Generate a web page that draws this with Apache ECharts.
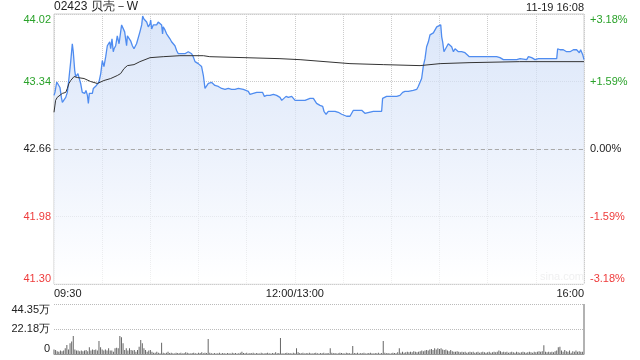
<!DOCTYPE html>
<html><head><meta charset="utf-8">
<script src="https://cdn.jsdelivr.net/npm/echarts@6/dist/echarts.min.js"></script>
<style>html,body{margin:0;padding:0;background:#fff}#c{width:640px;height:360px}</style>
</head><body><div id="c"></div>
<script>
const title = '02423 贝壳－W';
const stamp = '11-19 16:08';
const prevClose = 42.66;
const priceTicks = ['41.30','41.98','42.66','43.34','44.02'];
const pctTicks = ['-3.18%','-1.59%','0.00%','+1.59%','+3.18%'];
const volTicks = ['0','22.18万','44.35万'];
const xTickMinutes = [0,150,330];
const xTickTexts = ['09:30','12:00/13:00','16:00'];

const priceMin = [0,0.6,1.7,2.5,3.7,4.6,5.2,6.2,7.3,8.3,9.3,10.4,11.4,12,12.9,13.5,14.1,14.9,15.6,16.6,17.6,18.3,19.1,19.9,20.8,21.4,22,22.8,23.9,24.5,25.3,26.4,27,28,29.1,30.1,31.1,32.2,33.2,33.8,34.7,35.3,36.1,36.9,37.4,38.4,39.4,40.5,41.5,42.1,42.5,43.2,44,44.6,45.2,45.7,46.7,47.7,48.8,49.8,50.4,51.4,52.5,53.5,54.6,55.2,56,56.6,57.7,58.7,59.8,60.2,60.8,61.8,62.9,63.9,64.9,66,67,67.6,68,69.1,70.1,71.2,72.2,73.2,74.3,75.3,76.4,77.4,78.4,79.5,80.5,81.5,82.6,83.6,84.7,85.7,86.7,87.8,88.8,89.8,90.9,91.9,93,94,95,96.1,98.2,100.2,102.3,104.4,106.5,108.5,110.6,112.7,113.7,114.8,115.8,117.9,121,122,123.1,124.1,126.2,128.3,129.9,131,132.4,134.5,136.6,138.6,140.7,141.8,142.8,144.5,145.9,148,149,150.1,151.1,152.1,154.2,156.3,157.3,159.4,161.5,162.5,163.5,165.6,167.3,168.1,169.4,170.8,172.9,175,177,179.1,180.1,182.2,184.3,185.3,186.4,188,189.5,190.5,191.6,192.6,193.6,194.7,198.8,204,204.6,205.5,207.1,208.2,209.2,210.2,211.3,212.3,213.4,215.4,217.1,218.5,220.6,221.7,223.7,225.8,226.8,227.9,228.9,230,231,232,233.1,234.1,235.2,236.2,237.2,238.3,239.3,240.8,241.4,242,242.8,243.5,244.5,245.5,246.6,247.6,248.7,249.7,250.7,251.8,252.8,253.8,254.9,255.9,257,258.6,259.5,261.1,269.4,275.6,277.7,279.8,280.8,282.9,286,288.1,290.2,294.3,295.4,297.4,299.5,300.5,301.6,302.6,304.7,310.9,313,313.6,315.1,317.1,319.2,320.3,321.3,323.4,324.4,325.4,327.1,327.9,328.8,329.2,330];
const priceVal = [43.20,43.23,43.335,43.32,43.28,43.18,43.13,43.14,43.18,43.23,43.37,43.54,43.72,43.64,43.45,43.39,43.40,43.42,43.40,43.32,43.23,43.25,43.22,43.25,43.20,43.12,43.22,43.23,43.22,43.27,43.25,43.30,43.28,43.335,43.42,43.55,43.49,43.59,43.70,43.72,43.74,43.67,43.77,43.64,43.67,43.70,43.80,43.72,43.84,43.91,43.92,43.89,43.84,43.77,43.70,43.80,43.82,43.75,43.70,43.67,43.69,43.72,43.70,43.84,43.91,44.00,43.97,43.96,43.94,43.89,43.92,43.96,43.87,43.91,43.92,43.91,43.94,43.92,43.91,43.82,43.89,43.86,43.82,43.80,43.77,43.74,43.72,43.70,43.65,43.62,43.63,43.62,43.64,43.62,43.62,43.64,43.64,43.62,43.59,43.54,43.54,43.52,43.50,43.49,43.40,43.27,43.27,43.32,43.33,43.30,43.29,43.27,43.26,43.27,43.26,43.26,43.25,43.27,43.25,43.26,43.24,43.21,43.23,43.22,43.23,43.23,43.23,43.19,43.20,43.20,43.21,43.20,43.18,43.15,43.16,43.19,43.18,43.19,43.18,43.15,43.17,43.15,43.15,43.15,43.16,43.17,43.17,43.15,43.12,43.10,43.09,43.04,43.01,43.04,43.04,43.04,43.03,43.01,42.99,42.99,42.99,43.00,43.05,43.05,43.05,43.04,43.05,43.04,43.02,43.04,43.04,43.04,43.17,43.19,43.19,43.17,43.19,43.18,43.19,43.18,43.19,43.20,43.23,43.24,43.24,43.25,43.25,43.26,43.29,43.31,43.37,43.50,43.57,43.69,43.74,43.81,43.83,43.83,43.84,43.89,43.91,43.91,43.79,43.74,43.64,43.66,43.69,43.72,43.72,43.69,43.64,43.67,43.66,43.64,43.66,43.64,43.66,43.63,43.62,43.59,43.57,43.59,43.59,43.59,43.58,43.56,43.57,43.56,43.56,43.56,43.57,43.56,43.59,43.58,43.56,43.58,43.57,43.56,43.57,43.57,43.57,43.67,43.66,43.66,43.64,43.66,43.64,43.66,43.64,43.66,43.63,43.66,43.65,43.61,43.56];

const avgMin = [0,1,2,3,5.2,7.3,8.3,9.3,10.4,11.4,12.5,14.5,18.7,22.8,27,31.1,35.3,39.4,41.5,43.6,45.7,49.8,53.5,59.8,68,78.4,93,97,140.7,153.2,184.3,205,227.9,240.4,259,290,330];
const avgVal = [43.03,43.15,43.18,43.20,43.22,43.23,43.27,43.32,43.35,43.37,43.39,43.38,43.37,43.34,43.32,43.35,43.37,43.40,43.42,43.47,43.50,43.51,43.54,43.58,43.59,43.60,43.60,43.59,43.57,43.56,43.52,43.51,43.50,43.52,43.53,43.54,43.54];

const volume = [
4,3.5,2.5,2,3,2.5,3,5,8,4,
9.5,11,16,4,3,3,2.5,3,2.5,3,
3.5,2.5,6,3,4,3.5,4,3,11.5,6,
4,3,4,3,5,3,3,2,5,5.5,
5,16,14.8,9.5,3.5,5,3,5,3.5,3,
3.5,2,3.5,6.5,12.4,9.5,5,3.5,2,3,
3.5,2,1.2,1.2,2,1.2,0.6,10,1.2,0.6,
1.2,2,0.8,1,0.6,0.5,1.2,0.8,0.6,1,
0.5,0.8,1.5,1,0.6,0.5,0.8,1.2,0.6,0.5,
1,0.8,1.5,0.6,1.2,0.8,13.3,1,0.6,0.5,
0.8,0.5,0.6,1,0.5,0.8,0.6,0.5,0.8,0.6,
0.5,1,0.6,0.8,0.5,0.6,1.2,2,0.8,0.6,
1,0.5,0.8,0.6,1,0.5,0.8,0.6,0.5,1,
0.6,0.5,0.8,1,0.6,0.5,0.8,0.6,1.5,0.6,
0.8,14.2,0.6,0.5,0.8,1,0.6,0.8,0.5,1.2,
0.6,5,1.5,0.8,0.6,1,0.5,0.8,0.6,1,
0.6,0.5,0.8,1,0.6,0.5,0.8,0.6,1,0.5,
0.8,0.6,5,1,0.6,0.8,0.5,0.6,1,0.8,
0.6,0.5,1,0.8,0.6,0.5,7,0.8,0.6,1,
0.5,0.8,0.6,1,0.5,0.6,0.8,1,0.6,0.5,
0.8,0.6,1,0.5,0.8,11.5,1,0.6,0.8,0.5,
0.6,1,0.8,0.6,1.5,5,1,2,1.2,1.5,
2,1.5,2,1.5,2.5,2,1.5,2,2.5,3,
2.5,3,3.5,3,4,4.5,3.5,5,4,5,
4.5,5,4,3.5,4,3,2.5,3.5,2.5,2,
2,2.5,2,1.5,2,1.5,2,1.2,1.5,2,
1.5,2,1.2,1.5,2,1.2,1.5,2,1.5,1.2,
1.5,2,1.2,1.5,2,1.5,2,3,2.5,1.5,
2,1.5,2,1.2,1.5,2,1.5,1.2,2,1.5,
1.2,1.5,2,1.5,1.2,1.5,2,1.5,1.2,2,
1.5,2,2.5,2,2.5,7.7,2,1.5,2,1.5,
2,1.5,2.5,3,5.9,6.5,3,2,3.5,2.5,
2,3,1.2,2.5,2,3,2,2.5,2,2,
44.35];

const GREEN = '#2aa22a', RED = '#ee3b3b', TXT = '#222';
const FONT = 'Liberation Sans, Arial, sans-serif';
function tickColor(i){ return i > 2 ? GREEN : (i < 2 ? RED : TXT); }

const chart = echarts.init(document.getElementById('c'), null, {renderer:'canvas'});
chart.setOption({
  animation: false,
  textStyle: {fontFamily: FONT},
  graphic: [
    {type:'text', left:54, top:1, style:{text:title, fontSize:12, fill:'#222', fontFamily:FONT}},
    {type:'text', right:56, top:2, style:{text:stamp, fontSize:11, fill:'#222', fontFamily:FONT}},
    {type:'text', left:540, top:271, style:{text:'sina.com', fontSize:11, fill:'#d0d0d0', fontFamily:FONT}, z:1}
  ],
  grid: [
    {left:54, right:56, top:14, height:270, show:true, borderColor:'#cfcfcf', borderWidth:1, backgroundColor:'transparent'},
    {left:54, right:56, top:304, height:50, show:false}
  ],
  xAxis: [
    {type:'value', gridIndex:0, min:0, max:330, interval:30,
     axisLine:{show:false}, axisTick:{show:false},
     splitLine:{show:true, lineStyle:{color:'#cccccc', type:'dotted', width:1}},
     axisLabel:{show:true, fontSize:11, color:'#222', margin:4, alignMinLabel:'left', alignMaxLabel:'right',
       formatter:function(v){ const k = xTickMinutes.indexOf(Math.round(Number(v))); return k>=0 ? xTickTexts[k] : ''; }}},
    {type:'value', gridIndex:1, min:0, max:330, interval:30,
     axisLine:{show:true, lineStyle:{color:'#999'}}, axisTick:{show:false},
     splitLine:{show:false}, axisLabel:{show:false}}
  ],
  yAxis: [
    {type:'value', gridIndex:0, min:41.30, max:44.02, interval:0.68, position:'left',
     axisLine:{show:false}, axisTick:{show:false},
     splitLine:{show:true, lineStyle:{color:'#cccccc', type:'dotted'}},
     axisLabel:{fontSize:11, margin:3, verticalAlignMinLabel:'bottom', verticalAlignMaxLabel:'top',
       formatter:function(v,i){ return priceTicks[i]; },
       color:function(v){ return tickColor(Math.round((Number(v)-41.30)/0.68)); }}},
    {type:'value', gridIndex:0, min:-3.18, max:3.18, interval:1.59, position:'right',
     axisLine:{show:false}, axisTick:{show:false}, splitLine:{show:false},
     axisLabel:{fontSize:11, margin:6, verticalAlignMinLabel:'bottom', verticalAlignMaxLabel:'top',
       formatter:function(v,i){ return pctTicks[i]; },
       color:function(v){ return tickColor(Math.round((Number(v)+3.18)/1.59)); }}},
    {type:'value', gridIndex:1, min:0, max:44.35, interval:22.175,
     axisLine:{show:false}, axisTick:{show:false},
     splitLine:{show:true, lineStyle:{color:'#bbbbbb', type:'dotted'}},
     axisLabel:{fontSize:11, color:'#222', margin:4, verticalAlignMinLabel:'bottom', verticalAlignMaxLabel:'top',
       formatter:function(v,i){ return volTicks[i]; }}}
  ],
  series: [
    {type:'line', xAxisIndex:0, yAxisIndex:0, symbol:'none', z:3,
     data: priceMin.map((m,i)=>[m, priceVal[i]]),
     lineStyle:{color:'#4f8cf0', width:1.3},
     areaStyle:{origin:'start', color:new echarts.graphic.LinearGradient(0,0,0,1,[{offset:0,color:'#cbdbf6'},{offset:0.5,color:'#e3ebfa'},{offset:1,color:'#ffffff'}])},
     markLine:{silent:true, symbol:'none', label:{show:false},
       lineStyle:{color:'#aaaaaa', type:[4,3], width:1},
       data:[{yAxis: prevClose}]}},
    {type:'line', xAxisIndex:0, yAxisIndex:0, symbol:'none', z:4,
     data: avgMin.map((m,i)=>[m, avgVal[i]]),
     lineStyle:{color:'#333333', width:1}},
    {type:'bar', xAxisIndex:1, yAxisIndex:2, barWidth:1,
     data: volume.map((v,i)=>[i, v]),
     itemStyle:{color:'#666666'}}
  ]
});
</script>
</body></html>
